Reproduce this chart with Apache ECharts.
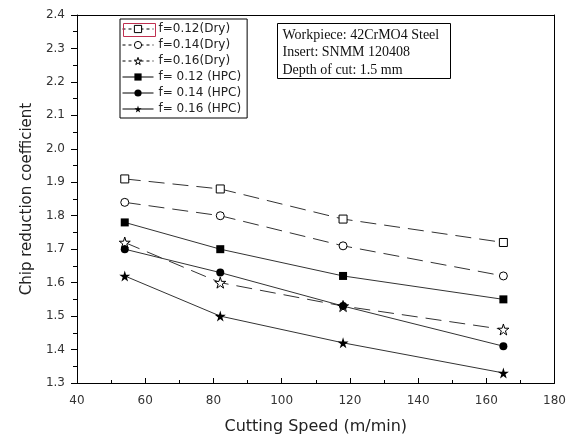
<!DOCTYPE html>
<html>
<head>
<meta charset="utf-8">
<script src="https://cdn.jsdelivr.net/npm/echarts@6/dist/echarts.min.js"></script>
<style>html,body{margin:0;padding:0;background:#fff;}#c{width:569px;height:445px;}</style>
</head>
<body>
<div id="c"></div>
<script>
const speeds = [54, 82, 118, 165];
const seriesNames = ['f=0.12(Dry)', 'f=0.14(Dry)', 'f=0.16(Dry)', 'f= 0.12 (HPC)', 'f= 0.14 (HPC)', 'f= 0.16 (HPC)'];
const dry012 = [1.91, 1.88, 1.79, 1.72];
const dry014 = [1.84, 1.80, 1.71, 1.62];
const dry016 = [1.72, 1.60, 1.53, 1.46];
const hpc012 = [1.78, 1.70, 1.62, 1.55];
const hpc014 = [1.70, 1.63, 1.53, 1.41];
const hpc016 = [1.62, 1.50, 1.42, 1.33];
const annotationLines = ['Workpiece: 42CrMO4 Steel', 'Insert: SNMM 120408', 'Depth of cut: 1.5 mm'];

const STAR = 'path://M50,0 L61,35 L98,35 L68,57 L79,91 L50,70 L21,91 L32,57 L2,35 L39,35 Z';
const SANS = 'DejaVu Sans, Liberation Sans, Arial, sans-serif';
function pts(vals){ return speeds.map((x,i)=>[x, vals[i]]); }
function mk(name, vals, symbol, hollow, dashed, size){
  return {
    name: name, type: 'line', data: pts(vals), symbol: symbol, symbolSize: size,
    showAllSymbol: true,
    lineStyle: {color: '#333', width: 1, type: dashed ? [16, 8] : 'solid'},
    itemStyle: {color: hollow ? '#fff' : '#000', borderColor: '#000', borderWidth: hollow ? 1 : 0},
    emphasis: {disabled: true}, z: 3
  };
}
const symbols = ['rect', 'circle', STAR, 'rect', 'circle', STAR];
const legendData = seriesNames.map((n, i) => {
  const dry = i < 3;
  return {
    name: n,
    itemStyle: {color: dry ? '#fff' : '#000', borderColor: '#000', borderWidth: dry ? 1 : 0},
    lineStyle: {color: '#000', width: 1, type: dry ? [3, 3] : 'solid'}
  };
});
const chart = echarts.init(document.getElementById('c'));
const axisFont = {fontFamily: SANS, fontSize: 12, color: '#333'};
chart.setOption({
  animation: false,
  backgroundColor: '#fff',
  grid: {left: 77, right: 12, top: 15, bottom: 62},
  legend: {
    orient: 'vertical', left: 120, top: 19,
    data: legendData,
    itemWidth: 31, itemHeight: 9, itemGap: 4,
    padding: [4, 6, 3, 2],
    borderColor: '#000', borderWidth: 1,
    textStyle: {fontFamily: SANS, fontSize: 12, color: '#222'},
    selectedMode: false
  },
  xAxis: [{
    type: 'value', min: 40, max: 180, interval: 20,
    name: 'Cutting Speed (m/min)', nameLocation: 'middle', nameGap: 36,
    nameTextStyle: {fontFamily: SANS, fontSize: 16, color: '#222'},
    axisLine: {show: true, lineStyle: {color: '#000', width: 1}},
    axisTick: {show: true, inside: true, length: 5, lineStyle: {color: '#000'}},
    minorTick: {show: true, splitNumber: 2, length: 3, lineStyle: {color: '#000'}},
    axisLabel: Object.assign({margin: 12}, axisFont),
    splitLine: {show: false}
  }, {
    type: 'value', min: 40, max: 180, position: 'top',
    axisLine: {show: true, onZero: false, lineStyle: {color: '#000', width: 1}},
    axisTick: {show: false}, axisLabel: {show: false}, splitLine: {show: false}
  }],
  yAxis: [{
    type: 'value', min: 1.3, max: 2.4, interval: 0.1,
    name: 'Chip reduction coefficient', nameLocation: 'middle', nameGap: 42,
    nameTextStyle: {fontFamily: SANS, fontSize: 15, color: '#222'},
    axisLine: {show: true, lineStyle: {color: '#000', width: 1}},
    axisTick: {show: true, inside: false, length: 6, lineStyle: {color: '#000'}},
    minorTick: {show: true, splitNumber: 2, length: 4, lineStyle: {color: '#000'}},
    axisLabel: Object.assign({margin: 12, formatter: v => v.toFixed(1)}, axisFont),
    splitLine: {show: false}
  }, {
    type: 'value', min: 1.3, max: 2.4, position: 'right',
    axisLine: {show: true, onZero: false, lineStyle: {color: '#000', width: 1}},
    axisTick: {show: false}, axisLabel: {show: false}, splitLine: {show: false}
  }],
  series: [
    mk(seriesNames[0], dry012, symbols[0], true, true, 8),
    mk(seriesNames[1], dry014, symbols[1], true, true, 8),
    mk(seriesNames[2], dry016, symbols[2], true, true, 11),
    mk(seriesNames[3], hpc012, symbols[3], false, false, 8),
    mk(seriesNames[4], hpc014, symbols[4], false, false, 8),
    mk(seriesNames[5], hpc016, symbols[5], false, false, 11)
  ],
  graphic: [
    {type: 'rect', left: 121, top: 21, shape: {width: 32, height: 13}, style: {fill: 'none', stroke: '#c03050', lineWidth: 1}, z: 100},
    {type: 'group', left: 277, top: 23, children: [
      {type: 'rect', shape: {x: 0, y: 0, width: 173, height: 55}, style: {fill: '#fff', stroke: '#000', lineWidth: 1}},
      {type: 'text', x: 5, y: 3, style: {text: annotationLines.join('\n'), fontFamily: 'Liberation Serif, Times New Roman, serif', fontSize: 14, lineHeight: 17.5, fill: '#111'}}
    ]}
  ]
});
</script>
</body>
</html>
